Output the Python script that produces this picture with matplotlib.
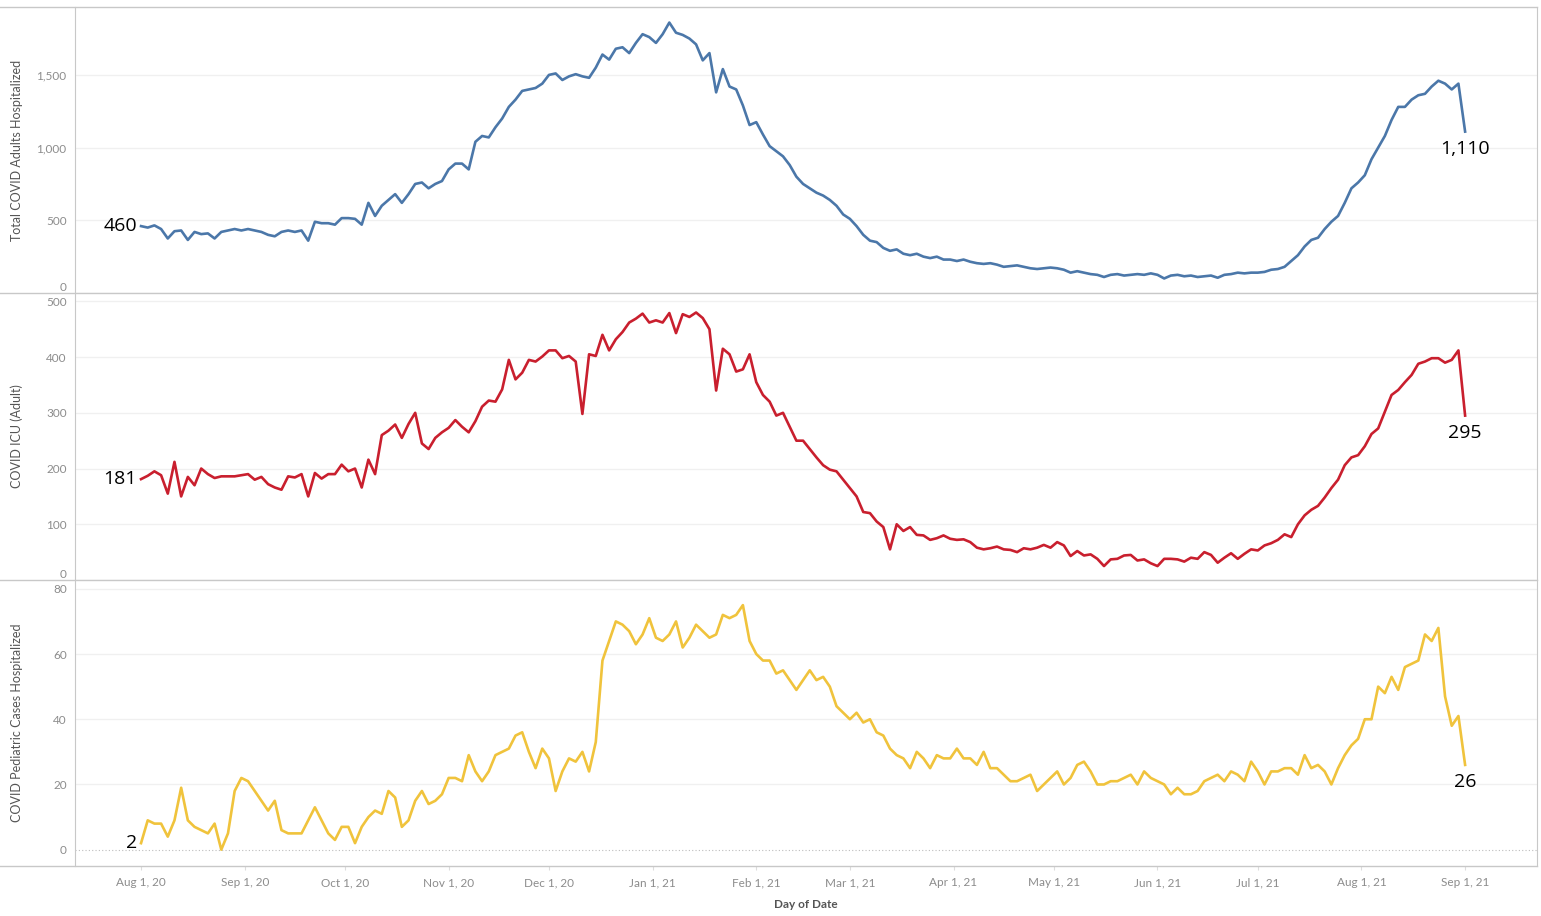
import matplotlib.pyplot as plt
import matplotlib.dates as mdates
from matplotlib.lines import Line2D
import pandas as pd

plt.rcParams['font.family'] = ['Lato', 'DejaVu Sans']

# data: one reading every second day, Aug 1 2020 .. Sep 1 2021
dates = pd.date_range('2020-08-01', periods=199, freq='2D')

adults = [
    460, 450, 465, 440, 375, 425, 430, 365, 420, 405, 410, 375, 420, 430, 440, 430,
    440, 430, 420, 400, 390, 420, 430, 420, 430, 360, 490, 480, 480, 470, 515,
    515, 510, 470, 620, 530, 600, 640, 680, 620, 680, 750, 760, 720, 750, 770,
    850, 890, 890, 850, 1040, 1080, 1070, 1140, 1200, 1280, 1330, 1390, 1400, 1410, 1440,
    1500, 1510, 1465, 1490, 1505, 1490, 1480, 1550, 1640, 1605, 1680, 1690, 1650, 1720, 1780, 1760,
    1720, 1780, 1860, 1790, 1775, 1750, 1710, 1600, 1650, 1380, 1540, 1420, 1400, 1290, 1155,
    1175, 1090, 1010, 975, 940, 880, 800, 750, 720, 690, 670, 640, 600, 540,
    510, 460, 400, 360, 350, 310, 290, 300, 270, 260, 270, 250, 240, 250, 230, 230,
    220, 230, 215, 205, 200, 205, 195, 180, 185, 190, 180, 170, 165, 170, 175,
    170, 160, 140, 150, 140, 130, 125, 110, 125, 130, 120, 125, 130, 125, 135,
    125, 100, 120, 125, 115, 120, 110, 115, 120, 105, 125, 130, 140, 135, 140,
    140, 145, 160, 165, 180, 220, 260, 320, 365, 380, 440, 490, 530, 620, 720, 760,
    810, 920, 1000, 1080, 1190, 1280, 1280, 1330, 1360, 1370, 1420, 1460, 1440, 1400, 1440, 1110,
]

icu = [
    181, 187, 195, 188, 155, 212, 150, 185, 170, 200, 190, 183, 186, 186, 186, 188,
    190, 180, 185, 172, 166, 162, 186, 184, 190, 150, 192, 182, 190, 190, 207,
    195, 200, 166, 216, 190, 260, 268, 279, 255, 280, 300, 245, 235, 255, 265,
    273, 287, 275, 265, 285, 311, 322, 320, 342, 395, 360, 372, 395, 392, 401,
    412, 412, 398, 402, 392, 298, 405, 402, 440, 412, 432, 445, 462, 469, 478, 462,
    466, 462, 479, 443, 477, 472, 480, 470, 450, 340, 415, 405, 374, 378, 405,
    355, 332, 320, 295, 300, 275, 250, 250, 235, 220, 206, 198, 195, 180,
    165, 150, 122, 120, 105, 95, 55, 100, 88, 95, 81, 80, 72, 75, 80, 74,
    72, 73, 68, 58, 55, 57, 60, 55, 54, 50, 57, 55, 58, 63, 58,
    68, 62, 43, 52, 44, 46, 38, 25, 37, 38, 44, 45, 35, 37, 30,
    25, 38, 38, 37, 33, 40, 38, 50, 45, 31, 40, 48, 38, 47, 55,
    53, 62, 66, 72, 82, 77, 100, 116, 126, 133, 148, 165, 180, 206, 220, 224,
    240, 262, 272, 302, 332, 341, 355, 368, 388, 392, 398, 398, 390, 395, 412, 295,
]

pediatric = [
    2, 9, 8, 8, 4, 9, 19, 9, 7, 6, 5, 8, 0, 5, 18, 22,
    21, 18, 15, 12, 15, 6, 5, 5, 5, 9, 13, 9, 5, 3, 7,
    7, 2, 7, 10, 12, 11, 18, 16, 7, 9, 15, 18, 14, 15, 17,
    22, 22, 21, 29, 24, 21, 24, 29, 30, 31, 35, 36, 30, 25, 31,
    28, 18, 24, 28, 27, 30, 24, 33, 58, 64, 70, 69, 67, 63, 66, 71,
    65, 64, 66, 70, 62, 65, 69, 67, 65, 66, 72, 71, 72, 75, 64,
    60, 58, 58, 54, 55, 52, 49, 52, 55, 52, 53, 50, 44, 42,
    40, 42, 39, 40, 36, 35, 31, 29, 28, 25, 30, 28, 25, 29, 28, 28,
    31, 28, 28, 26, 30, 25, 25, 23, 21, 21, 22, 23, 18, 20, 22,
    24, 20, 22, 26, 27, 24, 20, 20, 21, 21, 22, 23, 20, 24, 22,
    21, 20, 17, 19, 17, 17, 18, 21, 22, 23, 21, 24, 23, 21, 27,
    24, 20, 24, 24, 25, 25, 23, 29, 25, 26, 24, 20, 25, 29, 32, 34,
    40, 40, 50, 48, 53, 49, 56, 57, 58, 66, 64, 68, 47, 38, 41, 26,
]

titles = ['Total COVID Adults Hospitalized', 'COVID ICU (Adult)',
          'COVID Pediatric Cases Hospitalized']
colors = ['#4b77a9', '#c91f2e', '#f0c33c']
yticks = [[0, 500, 1000, 1500], [0, 100, 200, 300, 400, 500], [0, 20, 40, 60, 80]]
ylims = [(0, 1967), (0, 515), (-5, 82.7)]
month_ticks = pd.date_range('2020-08-01', '2021-09-01', freq='MS')

W, H = 1541, 916
fig = plt.figure(figsize=(W / 100, H / 100), dpi=100)
grey = '#c8c8c8'

# panel boxes in pixels (top, bottom)
boxes = [(7, 293), (293, 580), (580, 866)]
x0, x1 = 75, 1537
axes = []
for (top, bot) in boxes:
    ax = fig.add_axes([x0 / W, 1 - bot / H, (x1 - x0) / W, (bot - top) / H])
    axes.append(ax)

series = [adults, icu, pediatric]
for k, ax in enumerate(axes):
    vals = series[k]
    ax.plot(dates, vals, color=colors[k], lw=1.9, solid_joinstyle='round')
    ax.set_xlim(pd.Timestamp('2020-07-12 06:00'), pd.Timestamp('2021-09-22 12:00'))
    ax.set_ylim(*ylims[k])
    ax.set_yticks(yticks[k])
    ax.set_yticklabels([f'{v:,}' for v in yticks[k]])
    ax.tick_params(axis='y', length=0, pad=6, labelsize=8.5, labelcolor='#8c8c8c')
    for t in yticks[k]:
        if k == 2 and t == 0:
            ax.axhline(0, color='#bdbdbd', lw=0.8, ls=(0, (1, 2)), zorder=0)
        else:
            ax.axhline(t, color='#f0f0f0', lw=1, zorder=0)
    if k < 2:
        ax.get_yticklabels()[0].set_va('bottom')
    for s in ['top', 'bottom']:
        ax.spines[s].set_visible(False)
    ax.spines['left'].set_color(grey)
    ax.spines['right'].set_color(grey)
    ax.set_ylabel(titles[k], fontsize=9, color='#555555')
    ax.yaxis.set_label_coords(-0.0356, 0.5)
    ax.set_xticks(month_ticks)
    if k < 2:
        ax.tick_params(axis='x', length=0, labelbottom=False)
    else:
        ax.xaxis.set_major_formatter(mdates.DateFormatter('%b %-d, %y'))
        ax.tick_params(axis='x', length=3, color='#dddddd', pad=5,
                       labelsize=8.5, labelcolor='#8c8c8c')
        ax.set_xlabel('Day of Date', fontsize=8.5, color='#555555',
                      fontweight='bold', labelpad=8)
    # first and last value labels
    ax.annotate(f'{vals[0]:,}', xy=(dates[0], vals[0]), xytext=(-3, 0),
                textcoords='offset points', ha='right', va='center',
                fontsize=14, color='black', family=['Open Sans', 'DejaVu Sans'])
    ax.annotate(f'{vals[-1]:,}', xy=(dates[-1], vals[-1]), xytext=(0, -6),
                textcoords='offset points', ha='center', va='top',
                fontsize=14, color='black', family=['Open Sans', 'DejaVu Sans'])

# panel separators running across the whole width
for y in [7, 293, 580, 866]:
    fig.add_artist(Line2D([0, x1 / W], [1 - y / H, 1 - y / H], color=grey, lw=1))

fig.savefig('out.png', dpi=100)
